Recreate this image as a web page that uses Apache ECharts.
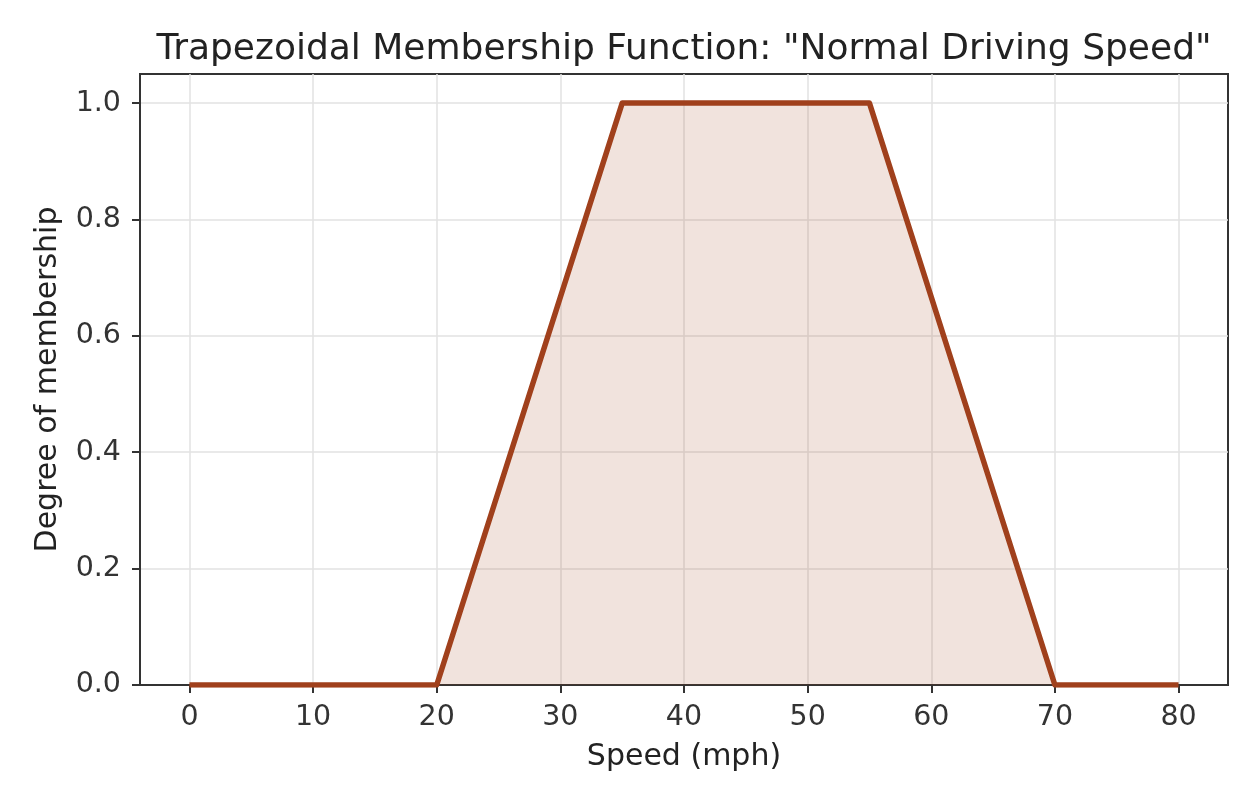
<!DOCTYPE html>
<html>
<head>
<meta charset="utf-8">
<script src="https://cdn.jsdelivr.net/npm/echarts@6/dist/echarts.min.js"></script>
<style>
html,body{margin:0;padding:0;background:#fff;}
#chart{width:1260px;height:810px;}
</style>
</head>
<body>
<div id="chart"></div>
<script>
const speed = [0, 20, 35, 55, 70, 80];
const membership = [0, 0, 1, 1, 0, 0];
const xTicks = [0, 10, 20, 30, 40, 50, 60, 70, 80];
const yTicks = [0, 0.2, 0.4, 0.6, 0.8, 1.0];

const FONT = 'DejaVu Sans';
const chart = echarts.init(document.getElementById('chart'), null, {renderer: 'canvas'});
const data = speed.map((s, i) => [s, membership[i]]);

chart.setOption({
  animation: false,
  backgroundColor: '#ffffff',
  textStyle: {fontFamily: FONT},
  title: {
    text: 'Trapezoidal Membership Function: "Normal Driving Speed"',
    left: 679, top: 27, textAlign: 'center',
    textStyle: {fontFamily: FONT, fontSize: 36, fontWeight: 'normal', color: '#222222'}
  },
  grid: {left: 140, right: 32, top: 74, bottom: 125, show: true, borderColor: '#333333', borderWidth: 2, backgroundColor: 'transparent'},
  xAxis: {
    type: 'value', min: -4, max: 84,
    name: 'Speed (mph)', nameLocation: 'middle', nameGap: 57,
    nameTextStyle: {fontFamily: FONT, fontSize: 30, color: '#222222'},
    axisLine: {show: true, onZero: false, lineStyle: {color: '#333333', width: 2}},
    axisTick: {show: true, customValues: xTicks, length: 8, inside: false, lineStyle: {color: '#333333', width: 2}},
    axisLabel: {customValues: xTicks, fontFamily: FONT, fontSize: 28.5, color: '#333333', margin: 18},
    splitLine: {show: true, lineStyle: {color: '#e2e2e2', width: 1.5}}
  },
  yAxis: {
    type: 'value', min: 0, max: 1.05,
    name: 'Degree of membership', nameLocation: 'middle', nameGap: 77, nameRotate: 90,
    nameTextStyle: {fontFamily: FONT, fontSize: 30, color: '#222222'},
    axisLine: {show: true, onZero: false, lineStyle: {color: '#333333', width: 2}},
    axisTick: {show: true, customValues: yTicks, length: 8, inside: false, lineStyle: {color: '#333333', width: 2}},
    axisLabel: {customValues: yTicks, fontFamily: FONT, fontSize: 28.5, color: '#333333', margin: 19,
      formatter: v => v.toFixed(1)},
    splitLine: {show: true, lineStyle: {color: '#e2e2e2', width: 1.5}}
  },
  series: [{
    type: 'line',
    data: data,
    symbol: 'none',
    clip: true,
    lineStyle: {color: '#a0401c', width: 5.5, join: 'round'},
    itemStyle: {color: '#a0401c'},
    areaStyle: {color: '#a0401c', opacity: 0.15, origin: 0},
    z: 1
  }]
});
</script>
</body>
</html>
